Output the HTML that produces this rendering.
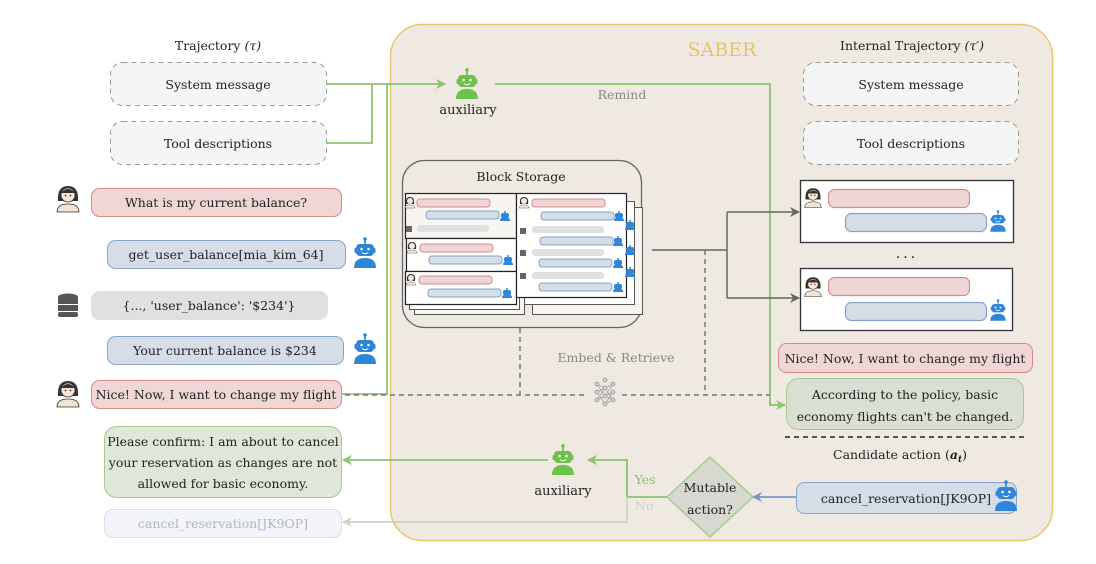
<!DOCTYPE html>
<html><head><meta charset="utf-8"><style>
html,body{margin:0;padding:0;background:#fff;}
svg{display:block;}
text{font-family:"DejaVu Serif","Liberation Serif",serif;font-size:12.5px;fill:#222;}
</style></head><body>
<svg width="1096" height="564" viewBox="0 0 1096 564" xmlns="http://www.w3.org/2000/svg">
<defs>
<marker id="ag" markerWidth="10" markerHeight="10" refX="9" refY="5" orient="auto" markerUnits="userSpaceOnUse"><path d="M0,0 L10,5 L0,10 L3,5z" fill="#8cc270"/></marker>
<marker id="agr" markerWidth="10" markerHeight="10" refX="9" refY="5" orient="auto" markerUnits="userSpaceOnUse"><path d="M0,0 L10,5 L0,10 L3,5z" fill="#666"/></marker>
<marker id="ab" markerWidth="10" markerHeight="10" refX="9" refY="5" orient="auto" markerUnits="userSpaceOnUse"><path d="M0,0 L10,5 L0,10 L3,5z" fill="#7896c8"/></marker>
<marker id="af" markerWidth="10" markerHeight="10" refX="9" refY="5" orient="auto" markerUnits="userSpaceOnUse"><path d="M0,0 L10,5 L0,10 L3,5z" fill="#ccd3cc"/></marker>
<g id="robot"><circle cx="0" cy="-15" r="1.8"/><rect x="-0.8" y="-14" width="1.6" height="4"/><rect x="-9" y="-10" width="18" height="12" rx="4"/><rect x="-10.5" y="-6" width="2" height="5" rx="1"/><rect x="8.5" y="-6" width="2" height="5" rx="1"/><path d="M-11,14 Q-11,4 0,4 Q11,4 11,14z"/><circle cx="-3.5" cy="-5" r="1.3" fill="#fff"/><circle cx="3.5" cy="-5" r="1.3" fill="#fff"/><path d="M-3,-1.5 Q0,1 3,-1.5" stroke="#fff" stroke-width="1" fill="none"/></g>
<g id="woman"><path d="M-10,2 Q-11,-13 0,-13 Q11,-13 10,2z" fill="#333"/><circle cx="0" cy="-4" r="7" fill="#fbe5d6" stroke="#333" stroke-width="0.8"/><path d="M-7,-6 Q0,-14 7,-6" fill="#333"/><path d="M-11,13 Q-11,5 0,5 Q11,5 11,13z" fill="#f3e3d3" stroke="#333" stroke-width="0.8"/><circle cx="-2.5" cy="-3.5" r="0.9" fill="#333"/><circle cx="2.5" cy="-3.5" r="0.9" fill="#333"/></g>
<g id="db" fill="#555"><ellipse cx="0" cy="-8" rx="10" ry="3.5"/><rect x="-10" y="-7" width="20" height="6"/><rect x="-10" y="0" width="20" height="6"/><rect x="-10" y="7" width="20" height="5" rx="2"/></g>
<g id="mr"><circle cx="0" cy="-4" r="1" /><rect x="-4" y="-3" width="8" height="5" rx="2"/><path d="M-5,5 Q-5,1 0,1 Q5,1 5,5z"/></g>
<g id="mw"><path d="M-4,1 Q-5,-6 0,-6 Q5,-6 4,1z" fill="#333"/><circle cx="0" cy="-2" r="3" fill="#fbe5d6"/><path d="M-5,5 Q-5,2 0,2 Q5,2 5,5z" fill="#eee" stroke="#555" stroke-width="0.5"/></g>
</defs>

<!-- SABER panel -->
<rect x="390.5" y="24.5" width="662" height="516" rx="32" fill="#f0e9e2" stroke="#e8c66a" stroke-width="1.5"/>
<text x="722" y="56" text-anchor="middle" style="font-size:19px;fill:#e6c36a">SABER</text>

<!-- Left column -->
<text x="218" y="50" text-anchor="middle">Trajectory <tspan font-style="italic">(τ)</tspan></text>
<rect x="110.5" y="62.5" width="216" height="43" rx="12" fill="#f5f5f5" stroke="#999" stroke-dasharray="5,4"/>
<text x="218" y="89" text-anchor="middle">System message</text>
<rect x="110.5" y="121.5" width="216" height="43" rx="12" fill="#f5f5f5" stroke="#999" stroke-dasharray="5,4"/>
<text x="218" y="148" text-anchor="middle">Tool descriptions</text>

<use href="#woman" x="68" y="199"/>
<rect x="91.5" y="188.5" width="250" height="28" rx="8" fill="#f1d6d6" stroke="#d88a8a"/>
<text x="216" y="207" text-anchor="middle">What is my current balance?</text>
<rect x="107.5" y="240.5" width="238" height="28" rx="8" fill="#d5dde7" stroke="#86a3cd"/>
<text x="226" y="259" text-anchor="middle">get_user_balance[mia_kim_64]</text>
<use href="#robot" x="365" y="254" fill="#2f86d9"/>
<use href="#db" x="68" y="305"/>
<rect x="91.5" y="291.5" width="236" height="28" rx="8" fill="#e0e0e0" stroke="#e0e0e0"/>
<text x="209" y="310" text-anchor="middle">{..., 'user_balance': '$234'}</text>
<rect x="107.5" y="336.5" width="236" height="28" rx="8" fill="#d5dde7" stroke="#86a3cd"/>
<text x="225" y="355" text-anchor="middle">Your current balance is $234</text>
<use href="#robot" x="365" y="350" fill="#2f86d9"/>
<use href="#woman" x="68" y="394"/>
<rect x="91.5" y="380.5" width="250" height="28" rx="8" fill="#f1d6d6" stroke="#d88a8a"/>
<text x="216" y="399" text-anchor="middle">Nice! Now, I want to change my flight</text>

<rect x="104.5" y="426.5" width="237" height="71" rx="12" fill="#dfe8d8" stroke="#a9c98e"/>
<text x="223" y="446" text-anchor="middle">Please confirm: I am about to cancel</text>
<text x="223" y="467" text-anchor="middle">your reservation as changes are not</text>
<text x="223" y="488" text-anchor="middle">allowed for basic economy.</text>
<rect x="104.5" y="509.5" width="237" height="28" rx="8" fill="#f3f5fa" stroke="#d8e0ec"/>
<text x="223" y="528" text-anchor="middle" style="fill:#b0b6c2">cancel_reservation[JK9OP]</text>

<!-- green connectors left -->
<g stroke="#8cc270" stroke-width="1.8" fill="none">
<path d="M326,84 L445,84" marker-end="url(#ag)"/>
<path d="M326,143 L372,143 L372,84"/>
<path d="M341,394 L387,394 L387,84"/>
<path d="M495,84 L770,84 L770,405 L785,405" marker-end="url(#ag)"/>
<path d="M667,497 L627,497 L627,460 L588,460" marker-end="url(#ag)"/>
<path d="M548,460 L343,460" marker-end="url(#ag)"/>
</g>
<path d="M627,497 L627,522 L343,522" stroke="#ccd3cc" stroke-width="1.8" fill="none" marker-end="url(#af)"/>

<use href="#robot" x="467" y="85" fill="#6cc24a"/>
<text x="468" y="114" text-anchor="middle" style="font-size:13px">auxiliary</text>
<text x="622" y="99" text-anchor="middle" style="fill:#888">Remind</text>

<!-- Block storage -->
<rect x="402.5" y="160.5" width="239" height="167" rx="22" fill="#f0e9e2" stroke="#666" stroke-width="1.3"/>
<text x="521" y="181" text-anchor="middle">Block Storage</text>
<g stroke="#555" stroke-width="1">
<rect x="414.5" y="204.5" width="110" height="110" fill="#f7f5f2"/>
<rect x="409.5" y="199.5" width="110" height="110" fill="#fff"/>
<rect x="532.5" y="207.5" width="110" height="107" fill="#f7f5f2"/>
<rect x="524.5" y="201.5" width="110" height="103" fill="#fff"/>
</g>
<g stroke="#222" stroke-width="1.2">
<rect x="405.5" y="193.5" width="111" height="45" fill="#f7f5f2"/>
<rect x="406.5" y="238.5" width="110" height="33" fill="#fff"/>
<rect x="405.5" y="271.5" width="111" height="33" fill="#fff"/>
<rect x="516.5" y="193.5" width="110" height="104" fill="#fff"/>
</g>
<g stroke-width="1">
<rect x="417" y="199" width="73" height="8" rx="3" fill="#efd6d6" stroke="#d88a8a"/>
<rect x="426" y="211" width="73" height="8" rx="3" fill="#d5dde7" stroke="#86a3cd"/>
<rect x="417" y="225" width="72" height="7" rx="3" fill="#e0e0e0"/>
<rect x="420" y="244" width="73" height="8" rx="3" fill="#efd6d6" stroke="#d88a8a"/>
<rect x="429" y="256" width="73" height="8" rx="3" fill="#d5dde7" stroke="#86a3cd"/>
<rect x="419" y="276" width="73" height="8" rx="3" fill="#efd6d6" stroke="#d88a8a"/>
<rect x="428" y="289" width="73" height="8" rx="3" fill="#d5dde7" stroke="#86a3cd"/>
<rect x="532" y="199" width="73" height="8" rx="3" fill="#efd6d6" stroke="#d88a8a"/>
<rect x="541" y="212" width="73" height="8" rx="3" fill="#d5dde7" stroke="#86a3cd"/>
<rect x="532" y="226" width="72" height="7" rx="3" fill="#e0e0e0"/>
<rect x="540" y="237" width="73" height="8" rx="3" fill="#d5dde7" stroke="#86a3cd"/>
<rect x="532" y="249" width="72" height="7" rx="3" fill="#e0e0e0"/>
<rect x="539" y="259" width="73" height="8" rx="3" fill="#d5dde7" stroke="#86a3cd"/>
<rect x="532" y="272" width="72" height="7" rx="3" fill="#e0e0e0"/>
<rect x="539" y="283" width="73" height="8" rx="3" fill="#d5dde7" stroke="#86a3cd"/>
</g>
<g fill="#2f86d9">
<use href="#mr" x="505" y="216"/><use href="#mr" x="508" y="260"/><use href="#mr" x="507" y="293"/>
<use href="#mr" x="619" y="216"/><use href="#mr" x="618" y="241"/><use href="#mr" x="618" y="263"/><use href="#mr" x="618" y="287"/>
<use href="#mr" x="630" y="225"/><use href="#mr" x="630" y="250"/><use href="#mr" x="630" y="272"/>
</g>
<use href="#mw" x="410" y="203"/><use href="#mw" x="412" y="248"/><use href="#mw" x="411" y="280"/><use href="#mw" x="524" y="203"/>
<g fill="#666"><rect x="406" y="226" width="6" height="6"/><rect x="520" y="228" width="6" height="6"/><rect x="520" y="250" width="6" height="6"/><rect x="520" y="273" width="6" height="6"/></g>

<!-- gray connectors -->
<g stroke="#666" stroke-width="1.5" fill="none">
<path d="M652,250 L727,250"/>
<path d="M727,212 L727,298"/>
<path d="M727,212 L799,212" marker-end="url(#agr)"/>
<path d="M727,298 L799,298" marker-end="url(#agr)"/>
</g>
<g stroke="#777" stroke-width="1.5" fill="none" stroke-dasharray="5,4">
<path d="M705,250 L705,395"/>
<path d="M520,328 L520,395"/>
<path d="M345,395 L588,395"/>
<path d="M622,395 L770,395"/>
</g>
<g stroke="#aaa" stroke-width="1" fill="#ccc">
<path d="M597,384 L605,388 L613,384 M597,384 L605,396 L613,392 M597,392 L605,388 L613,400 M597,392 L605,404 L613,392 M597,400 L605,396 L613,400 M597,400 L605,388 M605,404 L613,400 M605,396 L613,384" fill="none"/>
<circle cx="597" cy="384" r="2"/><circle cx="597" cy="392" r="2"/><circle cx="597" cy="400" r="2"/>
<circle cx="605" cy="380" r="2"/><circle cx="605" cy="388" r="2"/><circle cx="605" cy="396" r="2"/><circle cx="605" cy="404" r="2"/>
<circle cx="613" cy="384" r="2"/><circle cx="613" cy="392" r="2"/><circle cx="613" cy="400" r="2"/>
</g>
<text x="616" y="362" text-anchor="middle" style="fill:#888">Embed &amp; Retrieve</text>

<!-- Right column -->
<text x="912" y="50" text-anchor="middle">Internal Trajectory <tspan font-style="italic">(τ′)</tspan></text>
<rect x="803.5" y="62.5" width="215" height="43" rx="12" fill="#f5f5f5" stroke="#999" stroke-dasharray="5,4"/>
<text x="911" y="89" text-anchor="middle">System message</text>
<rect x="803.5" y="121.5" width="215" height="43" rx="12" fill="#f5f5f5" stroke="#999" stroke-dasharray="5,4"/>
<text x="911" y="148" text-anchor="middle">Tool descriptions</text>

<rect x="800.5" y="180.5" width="213" height="62" fill="#fff" stroke="#333" stroke-width="1.3"/>
<use href="#woman" x="813" y="198" transform="translate(813 198) scale(0.75) translate(-813 -198)"/>
<rect x="828.5" y="189.5" width="141" height="18" rx="6" fill="#efd6d6" stroke="#d88a8a" stroke-width="1.2"/>
<rect x="845.5" y="213.5" width="141" height="18" rx="6" fill="#d5dde7" stroke="#86a3cd" stroke-width="1.2"/>
<use href="#robot" x="998" y="222" fill="#2f86d9" transform="translate(998 222) scale(0.7) translate(-998 -222)"/>
<text x="907" y="262" text-anchor="middle" style="font-size:14px;letter-spacing:3px">···</text>
<rect x="800.5" y="268.5" width="212" height="62" fill="#fff" stroke="#333" stroke-width="1.3"/>
<use href="#woman" x="813" y="287" transform="translate(813 287) scale(0.75) translate(-813 -287)"/>
<rect x="828.5" y="277.5" width="141" height="18" rx="6" fill="#efd6d6" stroke="#d88a8a" stroke-width="1.2"/>
<rect x="845.5" y="302.5" width="141" height="18" rx="6" fill="#d5dde7" stroke="#86a3cd" stroke-width="1.2"/>
<use href="#robot" x="998" y="311" fill="#2f86d9" transform="translate(998 311) scale(0.7) translate(-998 -311)"/>

<rect x="778.5" y="343.5" width="254" height="29" rx="8" fill="#f1d6d6" stroke="#d88a8a"/>
<text x="905" y="363" text-anchor="middle">Nice! Now, I want to change my flight</text>
<rect x="786.5" y="378.5" width="237" height="51" rx="12" fill="#d9dfd2" stroke="#a9c98e"/>
<text x="905" y="399" text-anchor="middle">According to the policy, basic</text>
<text x="905" y="421" text-anchor="middle">economy flights can't be changed.</text>
<path d="M785,437 L1028,437" stroke="#222" stroke-width="1.5" stroke-dasharray="5,4"/>
<text x="900" y="459" text-anchor="middle">Candidate action (<tspan font-weight="bold" font-style="italic">a<tspan style="font-size:9px" dy="3">t</tspan></tspan><tspan dy="-3">)</tspan></text>
<rect x="796.5" y="482.5" width="220" height="31" rx="8" fill="#d5dde7" stroke="#86a3cd"/>
<text x="906" y="503" text-anchor="middle">cancel_reservation[JK9OP]</text>
<use href="#robot" x="1006" y="497" fill="#2f86d9"/>
<path d="M796,497 L753,497" stroke="#7896c8" stroke-width="1.8" marker-end="url(#ab)"/>

<!-- Diamond -->
<path d="M710,457 L753,497 L710,537 L667,497z" fill="#d6d9cf" stroke="#a9c98e" stroke-width="1.5"/>
<text x="710" y="492" text-anchor="middle">Mutable</text>
<text x="710" y="514" text-anchor="middle">action?</text>
<text x="645" y="484" text-anchor="middle" style="fill:#8cc270">Yes</text>
<text x="644" y="510" text-anchor="middle" style="fill:#ccd3dd">No</text>

<use href="#robot" x="563" y="461" fill="#6cc24a"/>
<text x="563" y="495" text-anchor="middle" style="font-size:13px">auxiliary</text>
</svg>
</body></html>
